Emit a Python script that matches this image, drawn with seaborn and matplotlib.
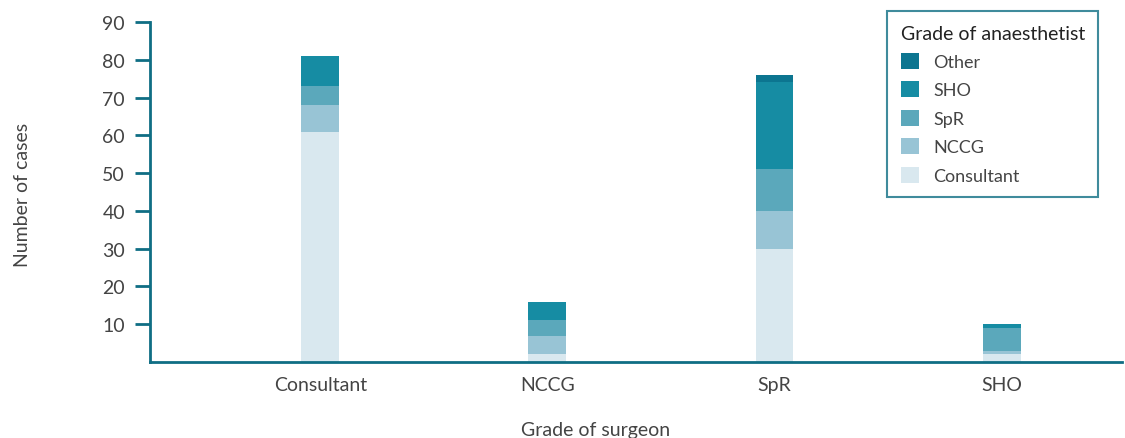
import matplotlib
matplotlib.use("Agg")
import matplotlib.pyplot as plt
import seaborn as sns
import pandas as pd
import numpy as np
from matplotlib.patches import Patch

# Data
surgeon = ["Consultant", "NCCG", "SpR", "SHO"]
anaes_consultant = [61, 2, 30, 2]
anaes_nccg = [7, 5, 10, 1]
anaes_spr = [5, 4, 11, 6]
anaes_sho = [8, 5, 23, 1]
anaes_other = [0, 0, 2, 0]
series_names = ["Consultant", "NCCG", "SpR", "SHO", "Other"]
series_vals = [anaes_consultant, anaes_nccg, anaes_spr, anaes_sho, anaes_other]
colors = ["#d9e8ef", "#98c4d5", "#5ba8bb", "#168ca3", "#0c7590"]
spine_col = "#0f6e84"
text_col = "#444444"

sns.set_style("white")
plt.rcParams['font.family'] = ['Lato', 'DejaVu Sans']

fig = plt.figure(figsize=(11.25, 4.39), dpi=100)
ax = fig.add_axes([150/1125, 1-363/439, (1122-150)/1125, (363-23)/439])

cum = np.cumsum(np.array(series_vals), axis=0)
df = pd.DataFrame({"surgeon": surgeon})
for i in range(len(series_names) - 1, -1, -1):
    df["v"] = cum[i]
    sns.barplot(data=df, x="surgeon", y="v", color=colors[i], width=0.167,
                saturation=1, ax=ax, order=surgeon, errorbar=None, linewidth=0)

ax.set_xlim(-0.75, 3.53)
ax.set_ylim(0, 90)
ax.set_yticks([10, 20, 30, 40, 50, 60, 70, 80, 90])
for s in ["top", "right"]:
    ax.spines[s].set_visible(False)
for s in ["left", "bottom"]:
    ax.spines[s].set_color(spine_col)
    ax.spines[s].set_linewidth(2)
ax.tick_params(axis="y", length=11, width=2, color=spine_col, pad=7,
               labelsize=14, labelcolor=text_col, left=True)
ax.tick_params(axis="x", length=0, pad=10, labelsize=14, labelcolor=text_col)

ax.set_xlabel("Grade of surgeon", fontsize=14, color=text_col)
ax.xaxis.set_label_coords((596-150)/972, -0.175)
ax.set_ylabel("Number of cases", fontsize=14, color=text_col)
ax.yaxis.set_label_coords((31-150)/972, 0.494)

handles = [Patch(facecolor=colors[i], edgecolor="none") for i in range(4, -1, -1)]
labels = [series_names[i] for i in range(4, -1, -1)]
leg = ax.legend(handles, labels, title="Grade of anaesthetist",
                loc="upper left", bbox_to_anchor=(887/1125, 1-12/439),
                bbox_transform=fig.transFigure, borderaxespad=0,
                fontsize=13, title_fontsize=14,
                frameon=True, fancybox=False, borderpad=0.75,
                handlelength=1.0, handleheight=1.0, labelspacing=0.62,
                handletextpad=0.8, alignment="left")
leg.get_frame().set_edgecolor(spine_col)
leg.get_frame().set_linewidth(1.5)
leg.get_title().set_color("#222222")
for t in leg.get_texts():
    t.set_color(text_col)

fig.savefig("out.png", dpi=100)
